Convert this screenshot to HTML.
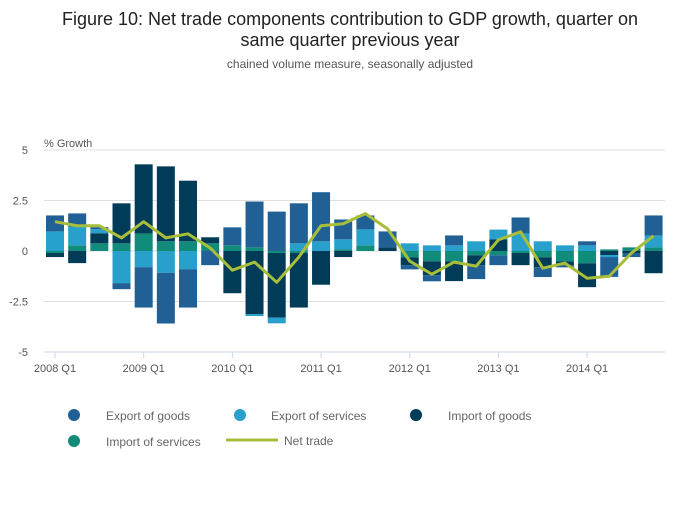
<!DOCTYPE html>
<html><head><meta charset="utf-8"><style>
body{margin:0;background:#fff;font-family:"Liberation Sans",sans-serif;}
svg text{font-family:"Liberation Sans",sans-serif;}
</style></head><body>
<svg id="c" width="700" height="502" xmlns="http://www.w3.org/2000/svg">
<text x="350" y="25" text-anchor="middle" font-size="18" fill="#222">Figure 10: Net trade components contribution to GDP growth, quarter on</text>
<text x="350" y="46" text-anchor="middle" font-size="18" fill="#222">same quarter previous year</text>
<text x="350" y="68" text-anchor="middle" font-size="12" fill="#555">chained volume measure, seasonally adjusted</text>
<text x="44" y="147" font-size="11" fill="#555">% Growth</text>
<g id="grid"></g><g id="bars"></g><g id="line"></g><g id="xaxis"></g>
<g>
<circle cx="74" cy="415" r="6" fill="#206095"/>
<text x="106" y="420" font-size="12" fill="#666">Export of goods</text>
<circle cx="240" cy="415" r="6" fill="#27a0cc"/>
<text x="271" y="420" font-size="12" fill="#666">Export of services</text>
<circle cx="416" cy="415" r="6" fill="#003c57"/>
<text x="448" y="420" font-size="12" fill="#666">Import of goods</text>
<circle cx="74" cy="441" r="6" fill="#118c7b"/>
<text x="106" y="446" font-size="12" fill="#666">Import of services</text>
<line x1="226" y1="440" x2="278" y2="440" stroke="#a8bd3a" stroke-width="3"/>
<text x="284" y="445" font-size="12" fill="#666">Net trade</text>
</g>
</svg>
<script>
const categories=["2008 Q1","2008 Q2","2008 Q3","2008 Q4","2009 Q1","2009 Q2","2009 Q3","2009 Q4","2010 Q1","2010 Q2","2010 Q3","2010 Q4","2011 Q1","2011 Q2","2011 Q3","2011 Q4","2012 Q1","2012 Q2","2012 Q3","2012 Q4","2013 Q1","2013 Q2","2013 Q3","2013 Q4","2014 Q1","2014 Q2","2014 Q3","2014 Q4"];
const exportGoods=[0.79,0.66,0.1,-0.3,-2.0,-2.51,-1.9,-0.7,0.89,2.27,1.95,1.98,2.43,0.98,0.69,0.79,-0.2,-0.3,0.49,-0.69,-0.49,0.79,-0.49,-0.1,0.2,-0.98,-0.2,0.99];
const exportServices=[0.97,0.92,0.2,-1.59,-0.8,-1.08,-0.9,0,0,-0.1,-0.28,0.38,0.48,0.5,0.79,0,0.38,0.28,0.28,0.48,0.49,0.87,0.48,0.28,0.28,-0.1,0,0.59];
const importGoods=[-0.2,-0.6,0.5,1.98,3.42,3.71,3.0,0.3,-2.09,-3.12,-3.2,-2.7,-1.67,-0.3,0,0.18,-0.4,-0.69,-0.98,-0.49,0.57,-0.6,-0.49,-0.2,-1.18,-0.2,-0.1,-1.1];
const importServices=[-0.1,0.28,0.38,0.38,0.87,0.48,0.48,0.38,0.28,0.18,-0.1,-0.1,0,0.08,0.28,0,-0.31,-0.51,-0.51,-0.21,-0.21,-0.1,-0.31,-0.51,-0.61,0.08,0.18,0.18];
const netTrade=[1.45,1.25,1.25,0.65,1.45,0.65,0.85,0.15,-0.95,-0.55,-1.55,-0.3,1.25,1.35,1.85,1.1,-0.5,-1.15,-0.55,-0.75,0.55,0.95,-0.85,-0.6,-1.35,-1.25,-0.1,0.75];
const yTicks=[5,2.5,0,-2.5,-5];
const yTickLabels=["5","2.5","0","-2.5","-5"];
const xTickLabels=["2008 Q1","2009 Q1","2010 Q1","2011 Q1","2012 Q1","2013 Q1","2014 Q1"];

const NS="http://www.w3.org/2000/svg";
const plotLeft=44,plotRight=665,plotTop=150,plotBottom=352;
function yScale(v){return plotTop+(5-v)*(plotBottom-plotTop)/10;}
function xScale(i){return 55+i*22.17;}
const bw=18;
function mk(tag,attrs,parent){const e=document.createElementNS(NS,tag);for(const k in attrs)e.setAttribute(k,attrs[k]);parent.appendChild(e);return e;}
const grid=document.getElementById('grid');
yTicks.forEach((t,i)=>{
  if(t!==-5){const l=mk('line',{x1:plotLeft,x2:plotRight,y1:yScale(t),y2:yScale(t),stroke:'#e0e0e0','stroke-width':1},grid);
  
  }
  const tx=mk('text',{x:28,y:yScale(t)+4,'text-anchor':'end','font-size':11,fill:'#555'},grid);
  tx.textContent=yTickLabels[i];
  
  
});
const bars=document.getElementById('bars');
const series=[[exportGoods,'#206095','export-goods'],[exportServices,'#27a0cc','export-services'],[importGoods,'#003c57','import-goods'],[importServices,'#118c7b','import-services']];
categories.forEach((c,i)=>{
  let pos=0,neg=0;
  for(let s=series.length-1;s>=0;s--){
    const v=series[s][0][i];
    if(v===0)continue;
    let y0,y1;
    if(v>0){y0=pos;y1=pos+v;pos=y1;}else{y0=neg;y1=neg+v;neg=y1;}
    const r=mk('rect',{x:xScale(i)-bw/2,width:bw,y:Math.min(yScale(y0),yScale(y1)),height:Math.abs(yScale(y0)-yScale(y1)),fill:series[s][1]},bars);
    
    
  }
});
const pts=netTrade.map((v,i)=>xScale(i)+','+yScale(v)).join(' ');
const pl=mk('polyline',{points:pts,fill:'none',stroke:'#a8bd3a','stroke-width':3,'stroke-linejoin':'round'},document.getElementById('line'));


const xa=document.getElementById('xaxis');
const al=mk('line',{x1:plotLeft,x2:plotRight,y1:plotBottom,y2:plotBottom,stroke:'#ccd6eb','stroke-width':1},xa);


xTickLabels.forEach((lab,j)=>{
  const i=categories.indexOf(lab);
  const tk=mk('line',{x1:xScale(i),x2:xScale(i),y1:plotBottom,y2:plotBottom+6,stroke:'#ccd6eb'},xa);
  
  
  const t=mk('text',{x:xScale(i),y:plotBottom+20,'text-anchor':'middle','font-size':11,fill:'#555'},xa);
  t.textContent=lab;
  
  
});
</script>
</body></html>
